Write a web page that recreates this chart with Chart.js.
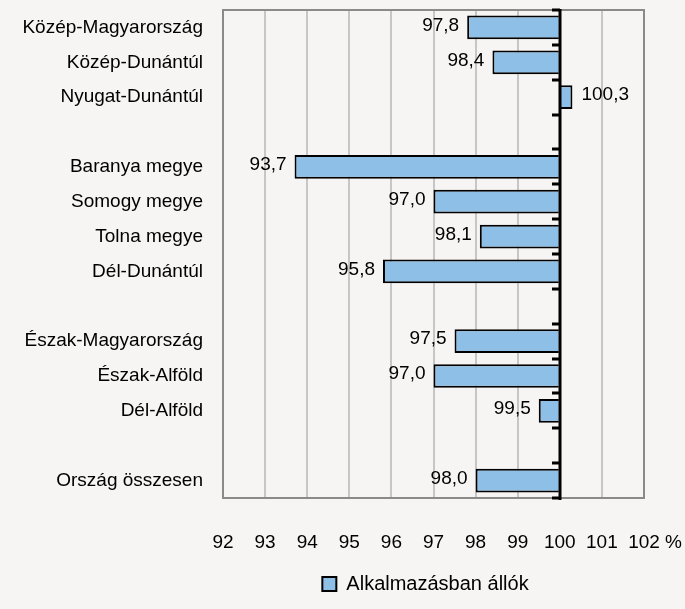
<!DOCTYPE html>
<html>
<head>
<meta charset="utf-8">
<script src="https://cdn.jsdelivr.net/npm/chart.js@4/dist/chart.umd.min.js"></script>
<style>
  html, body { margin: 0; padding: 0; background: #f6f5f3; }
  #wrap { width: 685px; height: 609px; }
</style>
</head>
<body>
<div id="wrap"><canvas id="chart"></canvas></div>
<script>
// regions (empty strings are the gaps between groups)
const regions = [
  'Közép-Magyarország', 'Közép-Dunántúl', 'Nyugat-Dunántúl', '',
  'Baranya megye', 'Somogy megye', 'Tolna megye', 'Dél-Dunántúl', '',
  'Észak-Magyarország', 'Észak-Alföld', 'Dél-Alföld', '',
  'Ország összesen'
];
const employed = [
  97.8, 98.4, 100.3, null,
  93.7, 97.0, 98.1, 95.8, null,
  97.5, 97.0, 99.5, null,
  98.0
];
const xMin = 92;
const xMax = 102;
const baseValue = 100;
const seriesName = 'Alkalmazásban állók';

const FONT = 'Liberation Sans, Arial, sans-serif';
Chart.defaults.font.family = FONT;
Chart.defaults.font.size = 19;
Chart.defaults.color = '#000';

// frame round the plot area
const framePlugin = {
  id: 'frame',
  beforeDatasetsDraw(chart) {
    const { ctx, chartArea: a } = chart;
    ctx.save();
    ctx.strokeStyle = '#8a8a8a';
    ctx.lineWidth = 2;
    ctx.strokeRect(a.left, a.top, a.right - a.left, a.bottom - a.top);
    ctx.restore();
  }
};

// black axis at 100 with ticks between the categories
const baseAxisPlugin = {
  id: 'baseAxis',
  afterDatasetsDraw(chart) {
    const { ctx } = chart;
    const xs = chart.scales.x, ys = chart.scales.y;
    const x = Math.round(xs.getPixelForValue(baseValue));
    const n = regions.length;
    const step = (ys.bottom - ys.top) / n;
    ctx.save();
    ctx.strokeStyle = '#000';
    ctx.lineWidth = 3;
    ctx.beginPath();
    ctx.moveTo(x, ys.top - 1);
    ctx.lineTo(x, ys.bottom + 2);
    for (let i = 0; i <= n; i++) {
      const y = Math.round(ys.top + i * step);
      ctx.moveTo(x, y);
      ctx.lineTo(x - 8, y);
    }
    ctx.stroke();
    ctx.restore();
  }
};

// value labels next to the bar ends, plus the % unit on the x axis
const labelPlugin = {
  id: 'valueLabels',
  afterDraw(chart) {
    const { ctx } = chart;
    const meta = chart.getDatasetMeta(0);
    ctx.save();
    ctx.font = '19px ' + FONT;
    ctx.fillStyle = '#000';
    ctx.textBaseline = 'middle';
    meta.data.forEach((bar, i) => {
      const v = employed[i];
      if (v == null) return;
      const txt = v.toFixed(1).replace('.', ',');
      if (v < baseValue) {
        ctx.textAlign = 'right';
        ctx.fillText(txt, bar.x - 8, bar.y - 2);
      } else {
        ctx.textAlign = 'left';
        ctx.fillText(txt, bar.x + 9, bar.y - 2);
      }
    });
    const xs = chart.scales.x;
    ctx.textAlign = 'left';
    ctx.fillText('%', xs.getPixelForValue(xMax) + 21, xs.top + 45);
    ctx.restore();
  }
};

// nudge the legend a little left, as in the original
const legendShift = {
  id: 'legendShift',
  afterLayout(chart) {
    chart.legend.left -= 8;
    chart.legend.right -= 8;
  }
};

new Chart(document.getElementById('chart'), {
  type: 'bar',
  data: {
    labels: regions,
    datasets: [{
      label: seriesName,
      data: employed,
      base: baseValue,
      backgroundColor: '#8ebfe7',
      borderColor: '#000',
      borderWidth: 2,
      barPercentage: 0.68,
      categoryPercentage: 1
    }]
  },
  options: {
    indexAxis: 'y',
    responsive: true,
    maintainAspectRatio: false,
    animation: false,
    layout: { padding: { top: 10, right: 41, bottom: 5, left: 0 } },
    scales: {
      x: {
        min: xMin,
        max: xMax,
        ticks: { stepSize: 1, padding: 33, maxRotation: 0 },
        grid: {
          drawTicks: false,
          color: ctx => (ctx.tick && (ctx.tick.value === xMin || ctx.tick.value === xMax)) ? '#8a8a8a' : '#c6c6c6',
          lineWidth: 2
        },
        border: { color: '#8a8a8a', width: 2 },
        afterFit(scale) {
          scale.height = 66;
          scale.paddingLeft = 0;
          scale.paddingRight = 0;
        }
      },
      y: {
        grid: { display: false, drawTicks: false },
        border: { display: false },
        ticks: { padding: 20, autoSkip: false },
        afterFit(scale) {
          scale.width = 223;
          scale.paddingTop = 0;
          scale.paddingBottom = 0;
        }
      }
    },
    plugins: {
      legend: {
        position: 'bottom',
        fullSize: false,
        labels: { boxWidth: 14, boxHeight: 14, padding: 10, font: { size: 20 } }
      },
      tooltip: { enabled: false }
    }
  },
  plugins: [framePlugin, baseAxisPlugin, labelPlugin, legendShift]
});
</script>
</body>
</html>
